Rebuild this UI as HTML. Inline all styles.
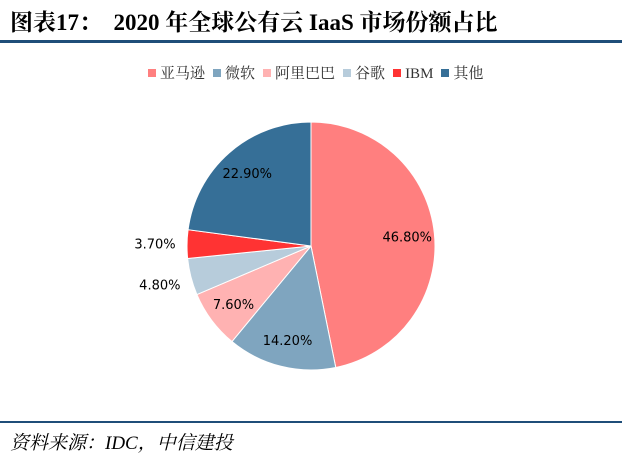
<!DOCTYPE html>
<html><head><meta charset="utf-8"><style>
body{margin:0;width:622px;height:457px;background:#fff;position:relative;overflow:hidden;font-family:"Liberation Serif","Noto Serif CJK SC",serif}
.title{position:absolute;left:10px;top:4px;font-size:23px;font-weight:bold;color:#000;white-space:nowrap}
.rule{position:absolute;left:0;width:622px;background:#1F4E79}
.src{position:absolute;left:10px;top:428px;font-size:19px;font-style:italic;white-space:nowrap}
.legend{position:absolute;top:62px;left:140px;font-size:15px;white-space:nowrap;color:#333}
.legend span.sw{display:inline-block;width:8px;height:8px;margin:0 4px 1px 8px}
</style></head><body>
<div class="title">图表17：&nbsp;&nbsp;2020 年全球公有云 IaaS 市场份额占比</div>
<div class="rule" style="top:40px;height:3px"></div>
<div class="legend" id="legend"></div>
<svg id="pie" width="622" height="457" style="position:absolute;left:0;top:0"></svg>
<div class="rule" style="top:421px;height:2px"></div>
<div class="src">资料来源：IDC，中信建投</div>
<script>
const categories=["亚马逊","微软","阿里巴巴","谷歌","IBM","其他"];
const values=[46.8,14.2,7.6,4.8,3.7,22.9];
const labels=["46.80%","14.20%","7.60%","4.80%","3.70%","22.90%"];
const colors=["#FF7F7F","#7FA5BF","#FFB2B2","#B7CCDB","#FF3333","#366F97"];
const NS="http://www.w3.org/2000/svg";
const svg=document.getElementById('pie');
const cx=311,cy=246,r=124;
const total=values.reduce((a,b)=>a+b,0);
let a0=0;
values.forEach((v,i)=>{
  const a1=a0+v/total*2*Math.PI;
  const p=t=>[cx+r*Math.sin(t),cy-r*Math.cos(t)];
  const [x0,y0]=p(a0),[x1,y1]=p(a1);
  const path=document.createElementNS(NS,'path');
  path.setAttribute('d',`M${cx},${cy}L${x0},${y0}A${r},${r} 0 ${a1-a0>Math.PI?1:0} 1 ${x1},${y1}Z`);
  path.setAttribute('fill',colors[i]);
  path.setAttribute('stroke','#fff');
  path.setAttribute('stroke-width','1');
  
  
  svg.appendChild(path);
  const m=(a0+a1)/2;
  const small=v/total<0.06;
  const lr=small?r+30:r*0.78;
  const t=document.createElementNS(NS,'text');
  t.setAttribute('x',cx+lr*Math.sin(m)+(small?-2:0));
  t.setAttribute('y',cy-lr*Math.cos(m)+5);
  t.setAttribute('text-anchor','middle');
  t.setAttribute('font-family','"DejaVu Sans",sans-serif');
  t.setAttribute('font-size','13');
  t.setAttribute('fill','#000');
  t.textContent=labels[i];
  
  
  svg.appendChild(t);
  a0=a1;
});
const lg=document.getElementById('legend');
categories.forEach((c,i)=>{
  const e=document.createElement('span');
  
  
  e.innerHTML=`<span class="sw" style="background:${colors[i]}"></span>${c}`;
  lg.appendChild(e);
});
</script>
</body></html>
